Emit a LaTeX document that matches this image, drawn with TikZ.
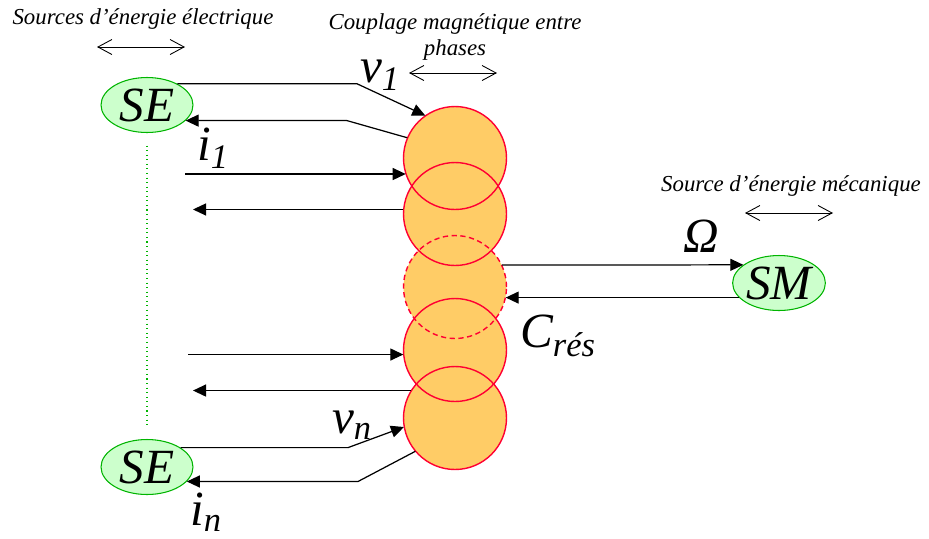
\documentclass[tikz,border=0pt]{standalone}
\usepackage{fontspec}
\setmainfont{Liberation Serif}
\usetikzlibrary{arrows.meta,shapes.geometric}
\definecolor{PhaseFill}{RGB}{255,204,102}
\definecolor{PhaseLine}{RGB}{255,0,51}
\definecolor{SrcFill}{RGB}{204,255,204}
\definecolor{SrcLine}{RGB}{0,180,0}

\begin{document}
\begin{tikzpicture}[x=0.02cm,y=-0.02cm,
src/.style={ellipse,draw=SrcLine,fill=SrcFill,line width=0.6pt,minimum width=1.84cm,minimum height=1.1cm,inner sep=0pt,font=\fontsize{28}{30}\selectfont\itshape},
phase/.style={circle,fill=PhaseFill,minimum size=2.06cm,inner sep=0pt},
rim/.style={draw=PhaseLine,line width=0.8pt},
arr/.style={-{Triangle[length=2.6mm,width=2.4mm]},line width=0.7pt},
span/.style={{Straight Barb[length=2.8mm,width=3mm]}-{Straight Barb[length=2.8mm,width=3mm]},line width=0.5pt},
title/.style={font=\fontsize{13}{15.3}\selectfont\itshape,align=center},
sym/.style={font=\fontsize{28}{30}\selectfont\itshape,inner sep=0pt}]
\useasboundingbox (0,0) rectangle (929,538);

% titles
\node[title] (tSE) at (143,19) {Sources d’énergie électrique};
\node[title] (tCP) at (455,37) {Couplage magnétique entre\\phases};
\node[title] (tSM) at (791,186) {Source d’énergie mécanique};
\draw[span] (97,47) -- (185,47);
\draw[span] (409,73) -- (497,73);
\draw[span] (745,213) -- (833,213);

% sources
\node[src] (se1) at (147,105) {SE};
\node[src] (se2) at (147,467) {SE};
\node[src] (sm) at (779,283) {SM};
\draw[SrcLine,dotted,line width=0.6pt] ([yshift=-0.25cm]se1.south) -- ([yshift=0.23cm]se2.north);

% phases
\foreach \n/\y in {c1/158,c2/214,c3/287,c4/350,c5/418}
  \node[phase] (\n) at (455,\y) {};
\foreach \n in {c1,c2,c4,c5}
  \draw[rim] (\n) circle[radius=1.03cm];
\draw[rim,dash pattern=on 3pt off 2pt] (c3) circle[radius=1.03cm];

% connectors
\coordinate (k1) at (357,0);
\coordinate (k2) at (347,0);
\coordinate (k9) at (348,0);
\coordinate (k10) at (358,0);
\coordinate (l3) at (185,0);
\coordinate (l4) at (193,0);
\coordinate (l7) at (188,0);
\draw[arr] (se1.35) -- (se1.35 -| k1) -- (c1.125);
\draw[arr] (c1.157) -- (k2 |- se1.-22) -- (se1.-22);
\draw[arr] (c1.198 -| l3) -- (c1.198);
\draw[arr] (c2.175) -- (c2.175 -| l4);
\draw[arr] (c3.25) -- (sm.153);
\draw[arr] (sm.200) -- (c3.-12 |- sm.200);
\draw[arr] (c4.185 -| l7) -- (c4.185);
\draw[arr] (c5.148) -- (c5.148 -| l4);
\draw[arr] (se2.30) -- (se2.30 -| k9) -- (c5.190);
\draw[arr] (c5.220) -- (k10 |- se2.-20) -- (se2.-20);

% labels
\node[sym] (v1) at (380,75) {v\textsubscript{1}};
\node[sym] (i1) at (213,148) {i\textsubscript{1}};
\node[sym] (om) at (701,236) {Ω};
\node[sym] (cr) at (558,336) {C\textsubscript{rés}};
\node[sym] (vn) at (352,425) {v\textsubscript{n}};
\node[sym] (in) at (206,512) {i\textsubscript{n}};
\end{tikzpicture}
\end{document}
